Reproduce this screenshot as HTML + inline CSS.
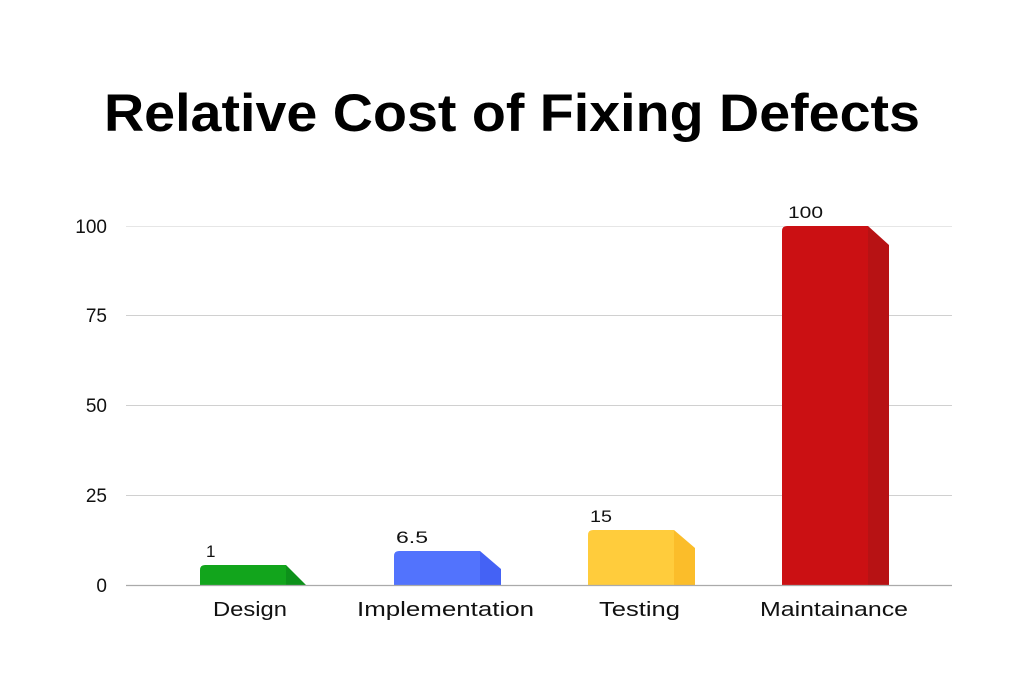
<!DOCTYPE html>
<html><head><meta charset="utf-8"><style>html,body{margin:0;padding:0;background:#fff}</style></head>
<body>
<svg width="1024" height="680" viewBox="0 0 1024 680" xmlns="http://www.w3.org/2000/svg" font-family="Liberation Sans, sans-serif">
<rect width="1024" height="680" fill="#fff"/>
<text x="104" y="131" font-size="53" font-weight="bold" textLength="816" lengthAdjust="spacingAndGlyphs" fill="#000">Relative Cost of Fixing Defects</text>
<g stroke="#d0d0d0" stroke-width="1">
<line x1="126" y1="226.5" x2="952" y2="226.5" stroke="#e6e6e6"/>
<line x1="126" y1="315.5" x2="952" y2="315.5"/>
<line x1="126" y1="405.5" x2="952" y2="405.5"/>
<line x1="126" y1="495.5" x2="952" y2="495.5"/>
</g>
<g font-size="19" fill="#111" text-anchor="end">
<text x="107" y="233">100</text>
<text x="107" y="322">75</text>
<text x="107" y="412">50</text>
<text x="107" y="502">25</text>
<text x="107" y="592">0</text>
</g>
<path d="M200 585 V570 Q200 565 205 565 H286 V585Z" fill="#12a51c"/>
<path d="M286 565 L306 585 H286Z" fill="#0d911a"/>
<path d="M394 585 V556 Q394 551 399 551 H480 V585Z" fill="#5273fd"/>
<path d="M480 551 L501 569 V585 H480Z" fill="#4462f5"/>
<path d="M588 585 V535 Q588 530 593 530 H674 V585Z" fill="#ffcc3c"/>
<path d="M674 530 L695 548 V585 H674Z" fill="#fbbd2a"/>
<path d="M782 585 V231 Q782 226 787 226 H868 V585Z" fill="#cb1013"/>
<path d="M868 226 L889 245 V585 H868Z" fill="#b71214"/>
<line x1="126" y1="585.5" x2="952" y2="585.5" stroke="#aaa" stroke-width="1.3"/>
<g font-size="17" fill="#111">
<text x="206" y="557">1</text>
<text x="396" y="543" textLength="32" lengthAdjust="spacingAndGlyphs">6.5</text>
<text x="590" y="522" textLength="22" lengthAdjust="spacingAndGlyphs">15</text>
<text x="788" y="218" textLength="35" lengthAdjust="spacingAndGlyphs">100</text>
</g>
<g font-size="20" fill="#111">
<text x="213" y="616" textLength="74" lengthAdjust="spacingAndGlyphs">Design</text>
<text x="357" y="616" textLength="177" lengthAdjust="spacingAndGlyphs">Implementation</text>
<text x="599" y="616" textLength="81" lengthAdjust="spacingAndGlyphs">Testing</text>
<text x="760" y="616" textLength="148" lengthAdjust="spacingAndGlyphs">Maintainance</text>
</g>
</svg>
</body></html>
